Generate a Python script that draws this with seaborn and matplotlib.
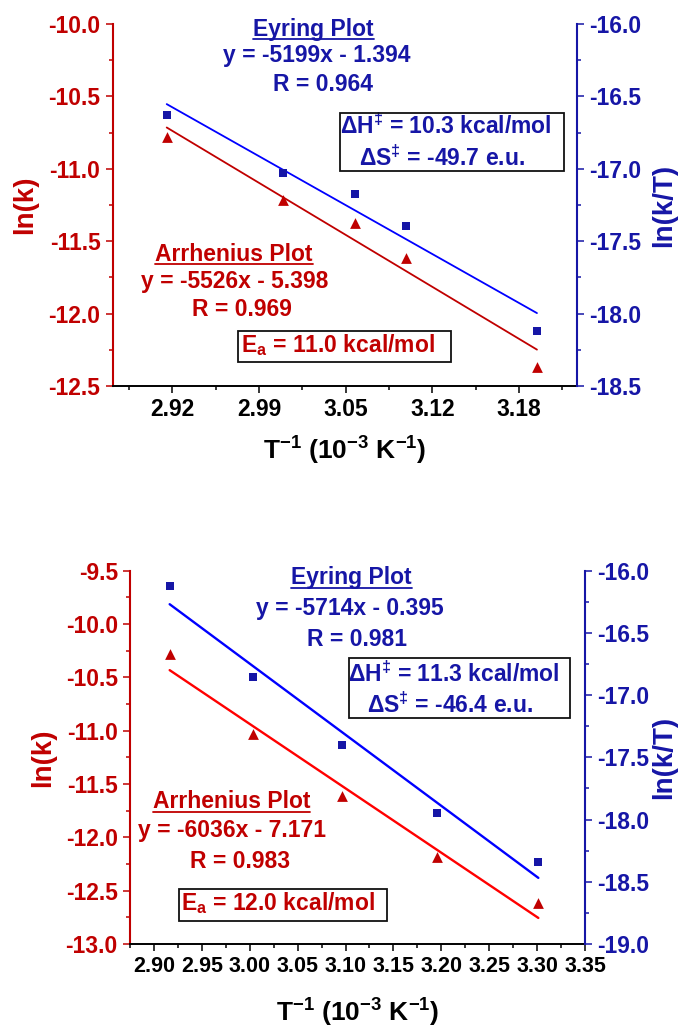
import matplotlib
matplotlib.use("Agg")
import numpy as np
import pandas as pd
import seaborn as sns
import matplotlib.pyplot as plt
from matplotlib.lines import Line2D
from matplotlib.patches import Rectangle
from matplotlib.ticker import FixedLocator, MultipleLocator, FormatStrFormatter

# ---------------- data ----------------
# Run 1 (upper panel)
inv_T_1 = [2.9158, 3.0028, 3.0572, 3.0952, 3.1934]        # 1/T, 10^-3 K^-1
ln_k_1 = [-10.783, -11.215, -11.377, -11.617, -12.370]     # ln(k)
ln_kT_1 = [-16.631, -17.028, -17.173, -17.395, -18.120]    # ln(k/T)
arr_slope_1, arr_icpt_1 = -5.526, 5.398
eyr_slope_1, eyr_icpt_1 = -5.199, -1.394
xticks_1 = [2.920, 2.985, 3.050, 3.115, 3.180]
xticklabels_1 = ["2.92", "2.99", "3.05", "3.12", "3.18"]
arr_text_1 = ["y = -5526x - 5.398", "R = 0.969"]
eyr_text_1 = ["y = -5199x - 1.394", "R = 0.964"]
Ea_1, dH_1, dS_1 = "11.0", "10.3", "-49.7"

# Run 2 (lower panel)
inv_T_2 = [2.9164, 3.0033, 3.0967, 3.1958, 3.3013]
ln_k_2 = [-10.281, -11.030, -11.609, -12.186, -12.617]
ln_kT_2 = [-16.123, -16.853, -17.398, -17.945, -18.345]
arr_slope_2, arr_icpt_2 = -6.036, 7.171
eyr_slope_2, eyr_icpt_2 = -5.714, 0.395
xticks_2 = [2.90, 2.95, 3.00, 3.05, 3.10, 3.15, 3.20, 3.25, 3.30, 3.35]
xticklabels_2 = ["2.90", "2.95", "3.00", "3.05", "3.10", "3.15", "3.20", "3.25", "3.30", "3.35"]
arr_text_2 = ["y = -6036x - 7.171", "R = 0.983"]
eyr_text_2 = ["y = -5714x - 0.395", "R = 0.981"]
Ea_2, dH_2, dS_2 = "12.0", "11.3", "-46.4"

# ---------------- style ----------------
sns.set_style("ticks")
plt.rcParams["font.family"] = ["Liberation Sans", "DejaVu Sans"]
plt.rcParams["font.weight"] = "bold"
plt.rcParams["axes.unicode_minus"] = False
plt.rcParams["mathtext.fontset"] = "custom"
for k in ("rm", "it", "bf", "sf"):
    plt.rcParams["mathtext." + k] = "Liberation Sans:bold"
plt.rcParams["mathtext.default"] = "rm"

RED = "#c00000"
NAVY = "#1616a6"
BLUE = "#0000ff"
TXT = 16.5
TICK = 16.5

W, H = 678, 1028
fig = plt.figure(figsize=(W / 100, H / 100), dpi=100)


def fpos(x, y):
    """pixel position (from top-left) -> figure fraction"""
    return x / W, 1 - y / H


underlined = []


def put(x, y, s, color, size=TXT, ha="center", underline=False):
    t = fig.text(*fpos(x, y), s, color=color, fontsize=size, fontweight="bold",
                 ha=ha, va="baseline")
    if underline:
        underlined.append(t)
    return t


def box(x0, y0, x1, y1):
    fx0, fy1 = fpos(x0, y0)
    fx1, fy0 = fpos(x1, y1)
    fig.add_artist(Rectangle((fx0, fy0), fx1 - fx0, fy1 - fy0, transform=fig.transFigure,
                             fill=False, edgecolor="#111111", lw=1.3, zorder=5))


def panel(rect, inv_T, ln_k, ln_kT, arr, eyr, xlim, xticks, xlabels, xminor,
          ylim_l, ylim_r, arr_line_color, lw, xtick_size, lab_x):
    l, t, r, b = rect
    ax = fig.add_axes([l / W, 1 - b / H, (r - l) / W, (b - t) / H])
    ax2 = ax.twinx()

    x_fit = [inv_T[0], inv_T[-1]]
    df = pd.DataFrame({"inv_T": inv_T, "ln_k": ln_k, "ln_kT": ln_kT})
    fit = pd.DataFrame({"inv_T": x_fit,
                        "arr": [arr[0] * v + arr[1] for v in x_fit],
                        "eyr": [eyr[0] * v + eyr[1] for v in x_fit]})

    sns.lineplot(data=fit, x="inv_T", y="arr", ax=ax, color=arr_line_color, lw=lw, legend=False)
    sns.scatterplot(data=df, x="inv_T", y="ln_k", ax=ax, marker="^", s=60, color=RED,
                    linewidth=0, legend=False, zorder=4)
    sns.lineplot(data=fit, x="inv_T", y="eyr", ax=ax2, color=BLUE, lw=lw, legend=False)
    sns.scatterplot(data=df, x="inv_T", y="ln_kT", ax=ax2, marker="s", s=38, color=NAVY,
                    linewidth=0, legend=False, zorder=4)

    ax.set_xlim(*xlim)
    ax.set_ylim(*ylim_l)
    ax2.set_ylim(*ylim_r)

    for s in ("top", "right"):
        ax.spines[s].set_visible(False)
    for s in ("top", "left", "bottom"):
        ax2.spines[s].set_visible(False)
    ax.spines["left"].set_color(RED)
    ax.spines["left"].set_linewidth(1.5)
    ax.spines["bottom"].set_color("black")
    ax.spines["bottom"].set_linewidth(1.4)
    ax2.spines["right"].set_color(NAVY)
    ax2.spines["right"].set_linewidth(1.5)

    ax.xaxis.set_major_locator(FixedLocator(xticks))
    ax.set_xticklabels(xlabels)
    ax.xaxis.set_minor_locator(FixedLocator(xminor))
    ax.yaxis.set_major_locator(MultipleLocator(0.5))
    ax.yaxis.set_minor_locator(MultipleLocator(0.25))
    ax.yaxis.set_major_formatter(FormatStrFormatter("%.1f"))
    ax2.yaxis.set_major_locator(MultipleLocator(0.5))
    ax2.yaxis.set_minor_locator(MultipleLocator(0.25))
    ax2.yaxis.set_major_formatter(FormatStrFormatter("%.1f"))

    ax.tick_params(axis="x", which="major", length=4.8, width=1.1, color="black",
                   labelcolor="black", labelsize=xtick_size, pad=4)
    ax.tick_params(axis="x", which="minor", length=3.0, width=1.1, color="black")
    ax.tick_params(axis="y", which="major", length=4.8, width=1.1, color=RED,
                   labelcolor=RED, labelsize=TICK, pad=4)
    ax.tick_params(axis="y", which="minor", length=3.0, width=1.1, color=RED)
    ax2.tick_params(axis="y", which="major", length=4.8, width=1.1, color=NAVY,
                    labelcolor=NAVY, labelsize=TICK, pad=4)
    ax2.tick_params(axis="y", which="minor", length=3.0, width=1.1, color=NAVY)

    ax.set_xlabel("T$^{-1}$ (10$^{-3}$ K$^{-1}$)", fontsize=19, fontweight="bold",
                  color="black", va="baseline")
    ax.xaxis.set_label_coords(0.5, lab_x[0])
    ax.set_ylabel("ln(k)", fontsize=20, fontweight="bold", color=RED, va="center")
    ax.yaxis.set_label_coords(lab_x[1], 0.5)
    ax2.set_ylabel("ln(k/T)", fontsize=20, fontweight="bold", color=NAVY, va="center",
                   rotation=90)
    ax2.yaxis.set_label_coords(lab_x[2], 0.5)
    return ax, ax2


# ---------------- upper panel ----------------
minor_1 = [xticks_1[0] - 0.0325 + 0.065 * i for i in range(len(xticks_1) + 1)]
panel((112.7, 24, 576.7, 386), inv_T_1, ln_k_1, ln_kT_1,
      (arr_slope_1, arr_icpt_1), (eyr_slope_1, eyr_icpt_1),
      (2.8753, 3.2232), xticks_1, xticklabels_1, minor_1,
      (-12.5, -10.0), (-18.5, -16.0), RED, 1.3, 16.5, (-0.204, -0.189, 1.1875))

put(313.5, 36, "Eyring Plot", NAVY, underline=True)
put(316.7, 61.7, eyr_text_1[0], NAVY)
put(323, 90.7, eyr_text_1[1], NAVY)
box(339.5, 112.7, 564, 170.7)
put(446, 134, "ΔH$^{‡}$ = " + dH_1 + " kcal/mol", NAVY)
put(441.7, 165.7, "ΔS$^{‡}$ = " + dS_1 + " e.u.", NAVY)

put(233.8, 261, "Arrhenius Plot", RED, underline=True)
put(235, 288.3, arr_text_1[0], RED)
put(242.3, 315.7, arr_text_1[1], RED)
box(237.7, 330.7, 450.7, 362.3)
put(338, 351.7, "E$_{a}$ = " + Ea_1 + " kcal/mol", RED)

# ---------------- lower panel ----------------
minor_2 = [xticks_2[0] - 0.025 + 0.05 * i for i in range(len(xticks_2))]
panel((130, 570.7, 585, 944), inv_T_2, ln_k_2, ln_kT_2,
      (arr_slope_2, arr_icpt_2), (eyr_slope_2, eyr_icpt_2),
      (2.875, 3.35), xticks_2, xticklabels_2, minor_2,
      (-13.0, -9.5), (-19.0, -16.0), "#ff0000", 1.7, 15.5, (-0.208, -0.191, 1.175))

put(351.5, 584.3, "Eyring Plot", NAVY, underline=True)
put(350, 615, eyr_text_2[0], NAVY)
put(356.7, 646, eyr_text_2[1], NAVY)
box(349.3, 658.3, 570, 718.3)
put(453.9, 681.7, "ΔH$^{‡}$ = " + dH_2 + " kcal/mol", NAVY)
put(449.5, 713.3, "ΔS$^{‡}$ = " + dS_2 + " e.u.", NAVY)

put(231.7, 808.3, "Arrhenius Plot", RED, underline=True)
put(232, 837.3, arr_text_2[0], RED)
put(240, 867.7, arr_text_2[1], RED)
box(178.7, 888.7, 387.3, 921)
put(277.5, 910, "E$_{a}$ = " + Ea_2 + " kcal/mol", RED)

# underline the plot titles
fig.canvas.draw()
rend = fig.canvas.get_renderer()
for t in underlined:
    bb = t.get_window_extent(rend)
    y = t.get_position()[1] - 3.2 / H
    fig.add_artist(Line2D([bb.x0 / W, bb.x1 / W], [y, y], transform=fig.transFigure,
                          color=t.get_color(), lw=1.3))

fig.savefig("out.png", dpi=100)
